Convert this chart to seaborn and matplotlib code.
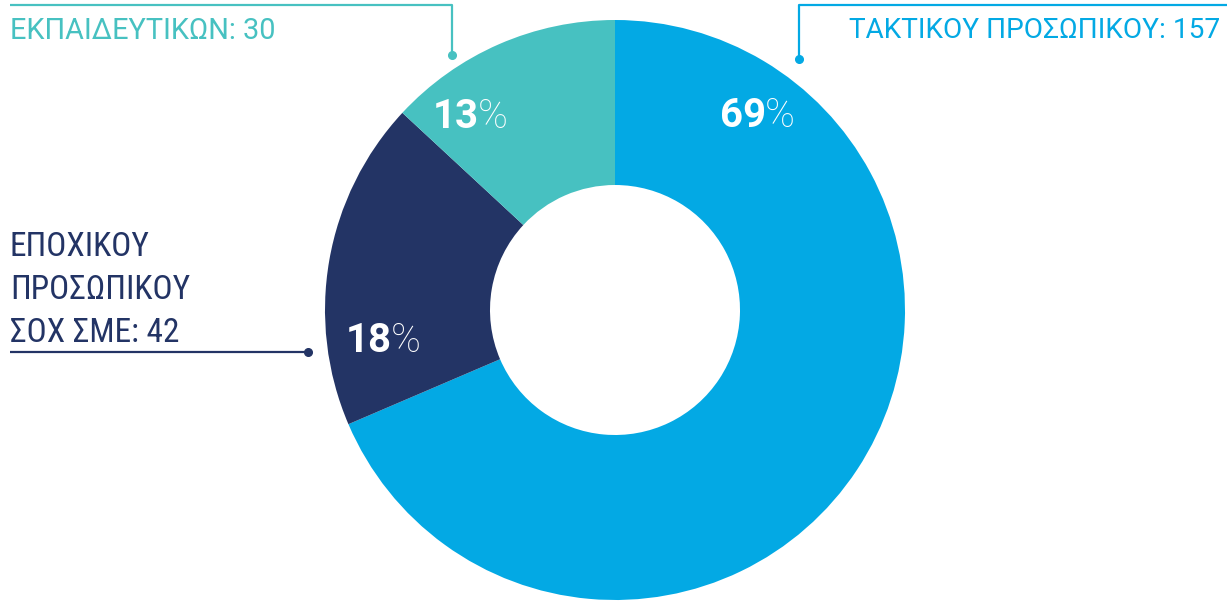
import matplotlib
matplotlib.use("Agg")
import matplotlib.pyplot as plt
import seaborn as sns

# data
categories = ["ΤΑΚΤΙΚΟΥ ΠΡΟΣΩΠΙΚΟΥ", "ΕΠΟΧΙΚΟΥ\nΠΡΟΣΩΠΙΚΟΥ\nΣΟΧ ΣΜΕ", "ΕΚΠΑΙΔΕΥΤΙΚΩΝ"]
values = [157, 42, 30]
colors = ["#03A9E4", "#233465", "#47C1C1"]

sns.set_theme(style="white")
plt.rcParams["font.family"] = ["Roboto Condensed", "DejaVu Sans"]
wide = ["Roboto", "DejaVu Sans"]

W, H = 1227, 601
fig = plt.figure(figsize=(W / 100, H / 100), dpi=100)
ax = fig.add_axes([0, 0, 1, 1])
ax.set_xlim(0, W)
ax.set_ylim(0, H)
ax.set_aspect("equal")
ax.axis("off")


def Y(y):
    # pixel row (from top) -> data y
    return H - y


cx, cy, r_out, r_in = 615, 310, 290, 125
ax.pie(values, colors=colors, startangle=90, counterclock=False,
       center=(cx, Y(cy)), radius=r_out,
       wedgeprops=dict(width=r_out - r_in, linewidth=0))
ax.set_xlim(0, W)
ax.set_ylim(0, H)

total = sum(values)
pcts = [round(v / total * 100) for v in values]

# percent labels inside the wedges (split x, centre y)
pct_pos = [(766, 112), (392, 337), (479, 113)]
for p, (px, py) in zip(pcts, pct_pos):
    ax.text(px, Y(py), str(p), color="white", fontsize=29, fontweight="bold",
            family=wide, ha="right", va="center_baseline")
    ax.text(px - 1, Y(py), "%", color="white", fontsize=29, fontweight="light",
            family=wide, ha="left", va="center_baseline")

lw = 1.6
# ΤΑΚΤΙΚΟΥ label, top right
c = colors[0]
ax.plot([W, 799, 799], [Y(5), Y(5), Y(59)], color=c, lw=lw, solid_capstyle="butt")
ax.plot(799, Y(59), "o", color=c, ms=5.5)
ax.text(849, Y(28), f"{categories[0]}: {values[0]}", color=c, fontsize=20.2,
        family=wide, ha="left", va="center_baseline")

# ΕΚΠΑΙΔΕΥΤΙΚΩΝ label, top left
c = colors[2]
ax.plot([10, 452, 452], [Y(5), Y(5), Y(55)], color=c, lw=lw, solid_capstyle="butt")
ax.plot(452, Y(55), "o", color=c, ms=5.5)
ax.text(10, Y(28), f"{categories[2]}: {values[2]}", color=c, fontsize=20.8,
        family=wide, ha="left", va="center_baseline")

# ΕΠΟΧΙΚΟΥ label, left
c = colors[1]
ax.plot([10, 308], [Y(352), Y(352)], color=c, lw=lw, solid_capstyle="butt")
ax.plot(308, Y(352), "o", color=c, ms=5.5)
for i, line in enumerate(f"{categories[1]}: {values[1]}".split("\n")):
    ax.text(10, Y(243 + 43.5 * i), line, color=c, fontsize=24,
            ha="left", va="center_baseline")

fig.savefig("out.png", dpi=100)
